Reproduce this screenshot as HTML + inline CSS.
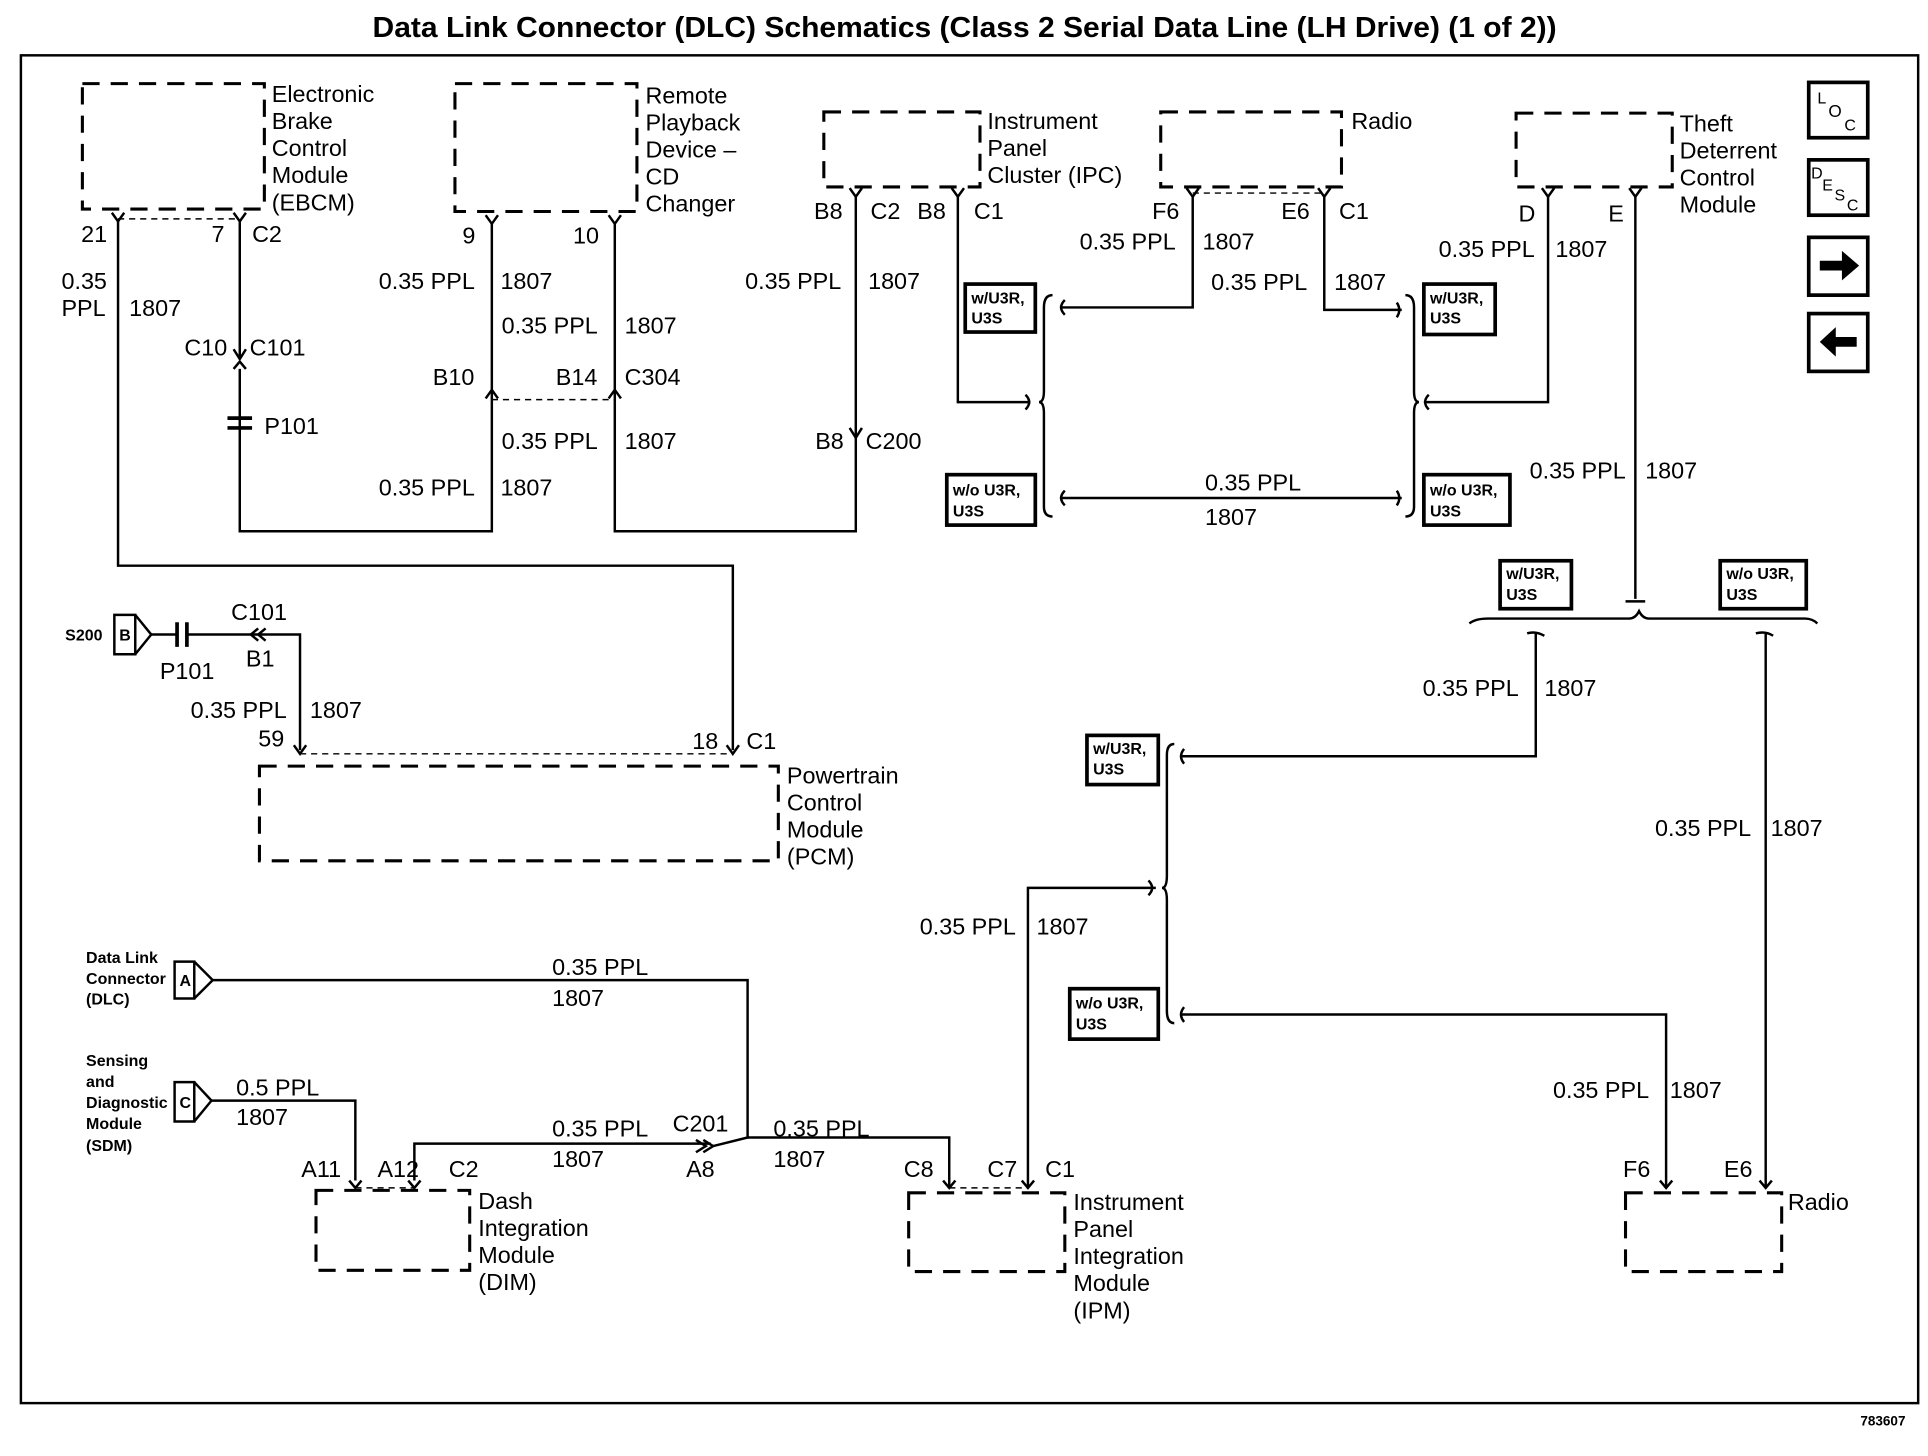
<!DOCTYPE html>
<html><head><meta charset="utf-8"><style>
html,body{margin:0;padding:0;background:#fff;}
svg{display:block;}
text{font-family:"Liberation Sans",sans-serif;font-size:19px;fill:#000;}
.s{font-size:13px;font-weight:bold;}
.t{font-size:23px;font-weight:bold;}
</style></head><body>
<svg width="1928" height="1456" viewBox="0 0 1568 1184" preserveAspectRatio="none" xmlns="http://www.w3.org/2000/svg">
<g fill="none" stroke="#000" stroke-width="2">
<rect x="17" y="45" width="1543" height="1096"/>
<g stroke-dasharray="14,9" stroke-width="2.5">
<rect x="67" y="68" width="148" height="102"/>
<rect x="370" y="68" width="148" height="104"/>
<rect x="670" y="91" width="127" height="61"/>
<rect x="944" y="91" width="147" height="61"/>
<rect x="1233" y="92" width="127" height="60"/>
<rect x="211" y="623" width="422" height="77"/>
<rect x="257" y="968" width="125" height="65"/>
<rect x="739" y="970" width="127" height="64"/>
<rect x="1322" y="970" width="127" height="64"/>
</g>
<g stroke-dasharray="5,4" stroke-width="1.2">
<path d="M96 178H195M400 325H500M970 157H1077M244 613H596M289 966H337M772 966H836"/>
</g>
<path d="M96 180V460H596V610"/>
<path d="M195 180V292M195 300V432H400V182"/>
<path d="M500 182V432H696V160"/>
<path d="M779 160V327H838"/>
<path d="M970 160V250H862"/>
<path d="M1077 160V252H1140"/>
<path d="M1259 160V327H1158"/>
<path d="M1330 160V487"/>
<path d="M862 405H1140"/>
<path d="M1249 515V615H960"/>
<path d="M1436 515V965"/>
<path d="M940 722H836V965"/>
<path d="M960 825H1355V965"/>
<path d="M123 516H143M153 516H244V610"/>
<path d="M173 797H608V925L580 932"/>
<path d="M172 895H289V960"/>
<path d="M337 960V930H578M608 925H772V965"/>
<path d="M91 173L96 180L101 173M190 173L195 180L200 173M395 175L400 182L405 175M495 175L500 182L505 175M691 153L696 160L701 153M774 153L779 160L784 153M965 153L970 160L975 153M1072 153L1077 160L1082 153M1254 153L1259 160L1264 153M1325 153L1330 160L1335 153"/>
<path d="M239 606L244 613L249 606M591 606L596 613L601 606M284 960L289 966L294 960M332 960L337 966L342 960M767 960L772 966L777 960M831 960L836 966L841 960M1350 960L1355 966L1360 960M1431 960L1436 966L1441 960"/>
<path d="M190 284L195 292L200 284M190 300L195 294L200 300"/>
<path d="M395 324L400 317L405 324M495 324L500 317L505 324"/>
<path d="M691 348L696 356L701 348"/>
<path d="M210 511L204 516L210 521M216 511L210 516L216 521"/>
<path d="M572 927L580 932L572 937M566 927L574 932L566 937"/>
<path d="M185 340H205M185 348H205" stroke-width="3"/>
<path d="M144 506V526M152 506V526" stroke-width="3"/>
<path d="M856 240Q849 240 849 250V318Q849 327 845 327Q849 327 849 336V412Q849 420 856 420"/>
<path d="M1143 240Q1150 240 1150 250V318Q1150 327 1154 327Q1150 327 1150 336V412Q1150 420 1143 420"/>
<path d="M866 244Q860 250 866 256M1136 246Q1140 252 1136 258M834 321Q840 327 834 333M1162 321Q1156 327 1162 333M866 399Q860 405 866 411M1136 399Q1140 405 1136 411"/>
<path d="M1195 507Q1200 503 1210 503H1325Q1330 503 1333 497Q1336 503 1341 503H1468Q1474 503 1478 507"/>
<path d="M1322 489H1338M1242 515Q1249 513 1256 517M1428 515Q1436 513 1442 517"/>
<path d="M955 605Q949 605 949 614V712Q949 722 945 722Q949 722 949 732V822Q949 832 955 832"/>
<path d="M963 609Q958 615 963 621M934 716Q940 722 934 728M963 819Q958 825 963 831"/>
<path d="M93 500H110V532H93ZM110 500L123 516L110 532"/>
<path d="M142 782H158V812H142ZM158 782L173 797L158 812"/>
<path d="M142 880H158V912H142ZM158 880L172 895L158 912"/>
<g stroke-width="3">
<rect x="785" y="231" width="57" height="39"/>
<rect x="770" y="386" width="72" height="41"/>
<rect x="1158" y="231" width="58" height="41"/>
<rect x="1158" y="386" width="70" height="41"/>
<rect x="1220" y="456" width="58" height="39"/>
<rect x="1399" y="456" width="70" height="39"/>
<rect x="884" y="598" width="58" height="40"/>
<rect x="870" y="804" width="72" height="41"/>
<rect x="1471" y="67" width="48" height="45"/>
<rect x="1471" y="130" width="48" height="45"/>
<rect x="1471" y="193" width="48" height="47"/>
<rect x="1471" y="255" width="48" height="47"/>
</g>
</g>
<path d="M1480 212H1498V204L1512 216L1498 228V220H1480Z" fill="#000"/>
<path d="M1510 274H1493V266L1480 278L1493 290V282H1510Z" fill="#000"/>
<text x="303" y="30" class="t" textLength="963" lengthAdjust="spacingAndGlyphs">Data Link Connector (DLC) Schematics (Class 2 Serial Data Line (LH Drive) (1 of 2))</text>
<text x="1513" y="1159" style="font-size:11px;font-weight:bold">783607</text>
<text x="1478" y="84" style="font-size:13px">L</text><text x="1487" y="95" style="font-size:14px">O</text><text x="1500" y="106" style="font-size:13px">C</text>
<text x="1473" y="145" style="font-size:13px">D</text><text x="1482" y="155" style="font-size:13px">E</text><text x="1492" y="163" style="font-size:13px">S</text><text x="1502" y="171" style="font-size:13px">C</text>
<text x="221" y="83">Electronic</text><text x="221" y="105">Brake</text><text x="221" y="127">Control</text><text x="221" y="149">Module</text><text x="221" y="171">(EBCM)</text>
<text x="525" y="84">Remote</text><text x="525" y="106">Playback</text><text x="525" y="128">Device –</text><text x="525" y="150">CD</text><text x="525" y="172">Changer</text>
<text x="803" y="105">Instrument</text><text x="803" y="127">Panel</text><text x="803" y="149">Cluster (IPC)</text>
<text x="1099" y="105">Radio</text>
<text x="1366" y="107">Theft</text><text x="1366" y="129">Deterrent</text><text x="1366" y="151">Control</text><text x="1366" y="173">Module</text>
<text x="640" y="637">Powertrain</text><text x="640" y="659">Control</text><text x="640" y="681">Module</text><text x="640" y="703">(PCM)</text>
<text x="389" y="983">Dash</text><text x="389" y="1005">Integration</text><text x="389" y="1027">Module</text><text x="389" y="1049">(DIM)</text>
<text x="873" y="984">Instrument</text><text x="873" y="1006">Panel</text><text x="873" y="1028">Integration</text><text x="873" y="1050">Module</text><text x="873" y="1072">(IPM)</text>
<text x="1454" y="984">Radio</text>
<text x="66" y="197">21</text><text x="172" y="197">7</text><text x="205" y="197">C2</text>
<text x="376" y="198">9</text><text x="466" y="198">10</text>
<text x="662" y="178">B8</text><text x="708" y="178">C2</text><text x="746" y="178">B8</text><text x="792" y="178">C1</text>
<text x="937" y="178">F6</text><text x="1042" y="178">E6</text><text x="1089" y="178">C1</text>
<text x="1235" y="180">D</text><text x="1308" y="180">E</text>
<text x="150" y="289">C10</text><text x="203" y="289">C101</text>
<text x="215" y="353">P101</text>
<text x="352" y="313">B10</text><text x="452" y="313">B14</text><text x="508" y="313">C304</text>
<text x="663" y="365">B8</text><text x="704" y="365">C200</text>
<text x="188" y="504">C101</text><text x="200" y="542">B1</text><text x="130" y="552">P101</text>
<text x="210" y="607">59</text><text x="563" y="609">18</text><text x="607" y="609">C1</text>
<text x="245" y="957">A11</text><text x="307" y="957">A12</text><text x="365" y="957">C2</text>
<text x="547" y="920">C201</text><text x="558" y="957">A8</text>
<text x="735" y="957">C8</text><text x="803" y="957">C7</text><text x="850" y="957">C1</text>
<text x="1320" y="957">F6</text><text x="1402" y="957">E6</text>
<text x="50" y="235">0.35</text><text x="50" y="257">PPL</text><text x="105" y="257">1807</text>
<text x="308" y="235">0.35 PPL</text><text x="407" y="235">1807</text>
<text x="408" y="271">0.35 PPL</text><text x="508" y="271">1807</text>
<text x="408" y="365">0.35 PPL</text><text x="508" y="365">1807</text>
<text x="308" y="403">0.35 PPL</text><text x="407" y="403">1807</text>
<text x="606" y="235">0.35 PPL</text><text x="706" y="235">1807</text>
<text x="878" y="203">0.35 PPL</text><text x="978" y="203">1807</text>
<text x="985" y="236">0.35 PPL</text><text x="1085" y="236">1807</text>
<text x="1170" y="209">0.35 PPL</text><text x="1265" y="209">1807</text>
<text x="980" y="399">0.35 PPL</text><text x="980" y="427">1807</text>
<text x="1244" y="389">0.35 PPL</text><text x="1338" y="389">1807</text>
<text x="1157" y="566">0.35 PPL</text><text x="1256" y="566">1807</text>
<text x="1346" y="680">0.35 PPL</text><text x="1440" y="680">1807</text>
<text x="155" y="584">0.35 PPL</text><text x="252" y="584">1807</text>
<text x="748" y="760">0.35 PPL</text><text x="843" y="760">1807</text>
<text x="449" y="793">0.35 PPL</text><text x="449" y="818">1807</text>
<text x="192" y="891">0.5 PPL</text><text x="192" y="915">1807</text>
<text x="449" y="924">0.35 PPL</text><text x="449" y="949">1807</text>
<text x="629" y="924">0.35 PPL</text><text x="629" y="949">1807</text>
<text x="1263" y="893">0.35 PPL</text><text x="1358" y="893">1807</text>
<text x="53" y="521" class="s">S200</text><text x="97" y="521" class="s">B</text>
<text x="146" y="802" class="s">A</text><text x="146" y="901" class="s">C</text>
<text x="70" y="783" class="s">Data Link</text><text x="70" y="800" class="s">Connector</text><text x="70" y="817" class="s">(DLC)</text>
<text x="70" y="867" class="s">Sensing</text><text x="70" y="884" class="s">and</text><text x="70" y="901" class="s">Diagnostic</text><text x="70" y="918" class="s">Module</text><text x="70" y="936" class="s">(SDM)</text>
<text x="790" y="247" class="s">w/U3R,</text><text x="790" y="263" class="s">U3S</text>
<text x="775" y="403" class="s">w/o U3R,</text><text x="775" y="420" class="s">U3S</text>
<text x="1163" y="247" class="s">w/U3R,</text><text x="1163" y="263" class="s">U3S</text>
<text x="1163" y="403" class="s">w/o U3R,</text><text x="1163" y="420" class="s">U3S</text>
<text x="1225" y="471" class="s">w/U3R,</text><text x="1225" y="488" class="s">U3S</text>
<text x="1404" y="471" class="s">w/o U3R,</text><text x="1404" y="488" class="s">U3S</text>
<text x="889" y="613" class="s">w/U3R,</text><text x="889" y="630" class="s">U3S</text>
<text x="875" y="820" class="s">w/o U3R,</text><text x="875" y="837" class="s">U3S</text>
</svg>
</body></html>
